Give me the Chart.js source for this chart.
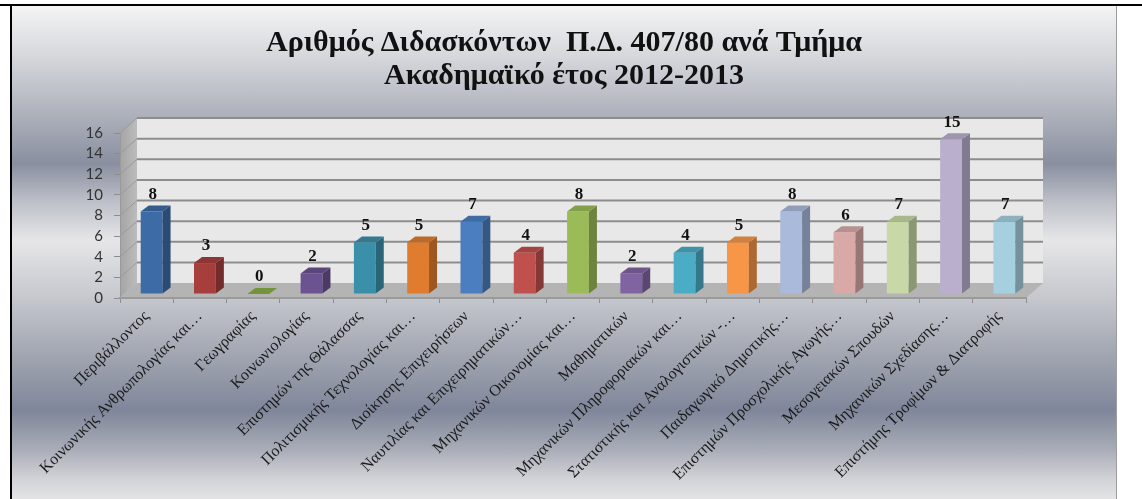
<!DOCTYPE html>
<html>
<head>
<meta charset="utf-8">
<script src="https://cdn.jsdelivr.net/npm/chart.js@4.4.1/dist/chart.umd.min.js"></script>
<style>
  body { margin: 0; background: #fff; width: 1142px; height: 499px; overflow: hidden; position: relative; }
  .rule { position: absolute; }
  #topRule { left: 0; top: 4px; width: 1142px; height: 2px; background: #000; }
  #leftRule { left: 10px; top: 4px; width: 2px; height: 495px; background: #000; }
  #rightRule { left: 1116px; top: 6px; width: 1px; height: 493px; background: #9c9c9c; }
  #frame {
    position: absolute; left: 12px; top: 6px; width: 1104px; height: 493px;
    background: linear-gradient(to bottom,
      #f4f4f4 0%, #d3d5da 11%, #aaaeb9 23%, #8a8fa0 32%, #b9bcc5 39%,
      #e6e6e8 47.5%, #c6c8ce 59%, #a1a5b1 71%, #80869a 82%, #a9adb8 90%,
      #d2d3d7 96%, #e4e4e6 100%);
  }
</style>
</head>
<body>
<div class="rule" id="topRule"></div>
<div class="rule" id="leftRule"></div>
<div class="rule" id="rightRule"></div>
<div id="frame"><canvas id="chart" width="1104" height="493"></canvas></div>
<script>
const titleLines = ["Αριθμός Διδασκόντων  Π.Δ. 407/80 ανά Τμήμα", "Ακαδημαϊκό έτος 2012-2013"];

const departments = [
    "Περιβάλλοντος",
    "Κοινωνικής Ανθρωπολογίας και…",
    "Γεωγραφίας",
    "Κοινωνιολογίας",
    "Επιστημών της Θάλασσας",
    "Πολιτισμικής Τεχνολογίας και…",
    "Διοίκησης Επιχειρήσεων",
    "Ναυτιλίας και Επιχειρηματικών…",
    "Μηχανικών Οικονομίας και…",
    "Μαθηματικών",
    "Μηχανικών Πληροφοριακών και…",
    "Στατιστικής και Αναλογιστικών -…",
    "Παιδαγωγικό Δημοτικής…",
    "Επιστημών Προσχολικής Αγωγής…",
    "Μεσογειακών Σπουδών",
    "Μηχανικών Σχεδίασης…",
    "Επιστήμης Τροφίμων & Διατροφής"
];

const teachers = [8, 3, 0, 2, 5, 5, 7, 4, 8, 2, 4, 5, 8, 6, 7, 15, 7];

const barColors = [
    "#3c6ba5", "#a63f3c", "#8aad47", "#6b5291", "#3a90a8", "#e07c2d",
    "#4a7ec0", "#c0504d", "#9bbb59", "#8064a2", "#4bacc6", "#f79646",
    "#a9badb", "#d9a9a8", "#c8d9a7", "#baafcd", "#a6cfdf"
];

const yMax = 16;
const yStep = 2;

// fake 3D offsets
const WALL_DX = 17, WALL_DY = -15;
const BAR_DX = 5, BAR_DY = -4;
const SIDE_DX = 8, SIDE_DY = -6;

function shade(hex, f) {
    const n = parseInt(hex.slice(1), 16);
    const r = Math.round(((n >> 16) & 255) * f);
    const g = Math.round(((n >> 8) & 255) * f);
    const b = Math.round((n & 255) * f);
    return "rgb(" + r + "," + g + "," + b + ")";
}

function poly(ctx, pts, fill) {
    ctx.beginPath();
    ctx.moveTo(pts[0][0], pts[0][1]);
    for (let i = 1; i < pts.length; i++) ctx.lineTo(pts[i][0], pts[i][1]);
    ctx.closePath();
    ctx.fillStyle = fill;
    ctx.fill();
}

const box3d = {
    id: "box3d",
    beforeDraw(chart) {
        const ctx = chart.ctx;
        const a = chart.chartArea;
        const yScale = chart.scales.y;
        const L = a.left, R = a.right, T = a.top, B = a.bottom;
        ctx.save();
        // back wall
        ctx.fillStyle = "#e8e8e8";
        ctx.fillRect(L + WALL_DX, T + WALL_DY, R - L, B - T);
        // left side wall
        const side = ctx.createLinearGradient(L, 0, L + WALL_DX, 0);
        side.addColorStop(0, "#a4a4a4");
        side.addColorStop(1, "#bcbcbc");
        poly(ctx, [[L, T], [L + WALL_DX, T + WALL_DY], [L + WALL_DX, B + WALL_DY], [L, B]], side);
        // floor
        poly(ctx, [[L, B], [L + WALL_DX, B + WALL_DY], [R + WALL_DX, B + WALL_DY], [R, B]], "#b4b4b4");
        // gridlines: thin on the side wall, thicker on the back wall
        yScale.ticks.forEach(t => {
            if (t.value === 0) return;
            const py = yScale.getPixelForValue(t.value);
            ctx.strokeStyle = "#9a9a9a";
            ctx.lineWidth = 1;
            ctx.beginPath();
            ctx.moveTo(L, py);
            ctx.lineTo(L + WALL_DX, py + WALL_DY);
            ctx.stroke();
            ctx.strokeStyle = "#8d8d8d";
            ctx.lineWidth = 2;
            ctx.beginPath();
            ctx.moveTo(L + WALL_DX, py + WALL_DY);
            ctx.lineTo(R + WALL_DX, py + WALL_DY);
            ctx.stroke();
        });
        ctx.restore();
    },
    beforeDatasetsDraw(chart) {
        chart.ctx.save();
        chart.ctx.translate(BAR_DX, BAR_DY);
    },
    afterDatasetsDraw(chart) {
        const ctx = chart.ctx;
        const meta = chart.getDatasetMeta(0);
        meta.data.forEach((bar, i) => {
            const p = bar.getProps(["x", "y", "base", "width"], true);
            const c = barColors[i];
            const l = p.x - p.width / 2, r = p.x + p.width / 2;
            poly(ctx, [[r, p.y], [r + SIDE_DX, p.y + SIDE_DY], [r + SIDE_DX, p.base + SIDE_DY], [r, p.base]], shade(c, 0.7));
            poly(ctx, [[l, p.y], [l + SIDE_DX, p.y + SIDE_DY], [r + SIDE_DX, p.y + SIDE_DY], [r, p.y]], shade(c, 0.85));
            ctx.font = "bold 17px 'Liberation Serif', serif";
            ctx.fillStyle = "#111";
            ctx.textAlign = "center";
            ctx.textBaseline = "middle";
            ctx.fillText(String(teachers[i]), p.x + 1, p.y - 17);
        });
        ctx.restore();
    }
};

new Chart(document.getElementById("chart"), {
    type: "bar",
    data: {
        labels: departments,
        datasets: [{
            data: teachers,
            backgroundColor: barColors,
            borderWidth: 0,
            barPercentage: 0.41,
            categoryPercentage: 1,
            clip: false
        }]
    },
    options: {
        responsive: false,
        animation: false,
        layout: { padding: { left: 63, right: 63, top: 0, bottom: 0 } },
        plugins: {
            legend: { display: false },
            tooltip: { enabled: false },
            title: {
                display: true,
                text: titleLines,
                color: "#111",
                font: { family: "'Liberation Serif', serif", size: 30, weight: "bold", lineHeight: 1.1 },
                padding: { top: 21, bottom: 40 }
            }
        },
        scales: {
            x: {
                grid: { offset: true, drawOnChartArea: false, tickLength: 5, color: "#8d8d8d" },
                border: { color: "#9a9a9a", width: 2 },
                ticks: {
                    autoSkip: false, maxRotation: 45, minRotation: 45, padding: 4,
                    color: "#1a1a1a",
                    font: { family: "'Liberation Serif', serif", size: 16 }
                },
                afterFit(s) { s.height = 201; }
            },
            y: {
                min: 0,
                max: yMax,
                grid: { drawOnChartArea: false, tickLength: 6, color: "#8d8d8d" },
                border: { color: "#9a9a9a" },
                ticks: {
                    stepSize: yStep, autoSkip: false, padding: 11,
                    color: "#333", font: { family: "Lato", size: 15 }
                },
                afterFit(s) { s.width = 45; }
            },
            // empty right axis: keeps room for the 3D depth so the title stays centred
            yRight: {
                position: "right",
                min: 0,
                max: yMax,
                grid: { display: false },
                border: { display: false },
                ticks: { display: false },
                afterFit(s) { s.width = 27; }
            }
        }
    },
    plugins: [box3d]
});
</script>
</body>
</html>
